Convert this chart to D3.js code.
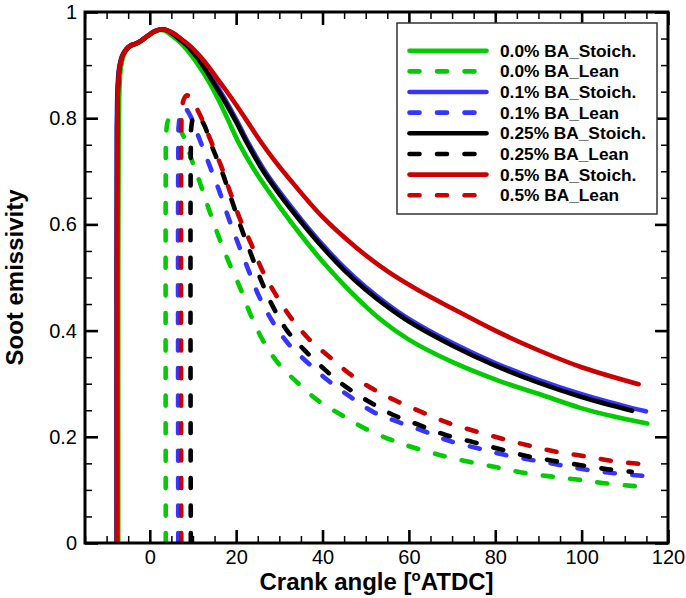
<!DOCTYPE html>
<html><head><meta charset="utf-8">
<script src="https://cdn.jsdelivr.net/npm/d3@7"></script>
<style>
html,body{margin:0;padding:0;background:#fff;}
svg{display:block;font-family:"Liberation Sans",Arial,Helvetica,sans-serif;}
</style></head>
<body><svg id="chart" width="686" height="598"></svg>
<script>
// ---------- data ----------
const xTicks = [0, 20, 40, 60, 80, 100, 120];
const yTicks = [0, 0.2, 0.4, 0.6, 0.8, 1];
const yTickLabels = ["0", "0.2", "0.4", "0.6", "0.8", "1"];
const xLabel = "Crank angle [";
const yLabel = "Soot emissivity";
const seriesLabels = ["0.0% BA_Stoich.", "0.0% BA_Lean", "0.1% BA_Stoich.", "0.1% BA_Lean",
                      "0.25% BA_Stoich.", "0.25% BA_Lean", "0.5% BA_Stoich.", "0.5% BA_Lean"];

const stoich00 = [[-7.3,0],[-7.3,0.45],[-7.2,0.78],[-7.0,0.86],[-6.7,0.895],[-6.1,0.917],[-5.3,0.929],[-4.4,0.936],[-3.4,0.939],[-2.4,0.943],[-1.2,0.950],[0,0.957],[1.2,0.963],[2.4,0.966],[3.4,0.965],[4.4,0.960],
  [5.5,0.953],[7,0.943],[8.6,0.929],[10.2,0.912],[11.8,0.893],[13.8,0.867],[15.7,0.838],[18,0.799],[20.7,0.752],[24.4,0.700],[30,0.634],[35,0.580],[40,0.530],[46.4,0.474],[53.3,0.422],[60,0.383],[70,0.341],[81,0.305],[90,0.281],[99.5,0.255],[107,0.239],[115.2,0.225]];
const lean00 = [[3.7,0],[3.7,0.70],[3.8,0.772],[4.2,0.795],[4.8,0.801],[5.8,0.792],[7.7,0.768],[9.9,0.717],[11.9,0.672],[13.7,0.628],[16,0.576],[18.4,0.527],[20.9,0.481],[23.3,0.431],[26.1,0.383],[29.8,0.338],[34.2,0.302],[39,0.268],[44.4,0.241],[50,0.215],[56,0.194],[61.8,0.178],[70,0.160],[80.6,0.142],[86.8,0.132],[93.2,0.125],[99.5,0.119],[105.9,0.112],[113.8,0.106]];
const stoich01 = [[-7.7,0],[-7.7,0.45],[-7.65,0.78],[-7.45,0.86],[-7.1,0.895],[-6.4,0.918],[-5.5,0.930],[-4.5,0.937],[-3.4,0.940],[-2.4,0.944],[-1.2,0.951],[0,0.958],[1.2,0.964],[2.4,0.967],[3.4,0.967],[4.4,0.964],
  [5.5,0.959],[7,0.950],[8.6,0.939],[10.2,0.925],[11.8,0.909],[14.5,0.875],[17.4,0.836],[20,0.798],[22.6,0.757],[26.3,0.705],[30,0.662],[35,0.610],[40,0.562],[45,0.519],[50,0.482],[55,0.450],[60,0.422],[70,0.377],[80,0.339],[90,0.307],[100,0.280],[111.7,0.254],[114.9,0.248]];
const lean01 = [[6.6,0],[6.6,0.72],[6.75,0.79],[7.3,0.813],[8.1,0.819],[9.3,0.806],[11.4,0.763],[13.7,0.714],[16,0.665],[18.2,0.613],[20.5,0.563],[22.8,0.515],[25.1,0.468],[28.2,0.420],[31.9,0.377],[36.5,0.340],[41.3,0.306],[46.3,0.276],[51.7,0.247],[57.5,0.228],[63.7,0.210],[69.5,0.192],[77.2,0.176],[82.2,0.166],[88.7,0.156],[94.9,0.147],[101.1,0.138],[108,0.131],[114.9,0.126]];
const stoich025 = [[-7.6,0],[-7.6,0.45],[-7.55,0.78],[-7.35,0.86],[-7.0,0.895],[-6.3,0.918],[-5.4,0.930],[-4.4,0.937],[-3.4,0.940],[-2.4,0.944],[-1.2,0.951],[0,0.958],[1.2,0.964],[2.4,0.967],[3.4,0.967],[4.4,0.964],
  [5.5,0.958],[7,0.948],[8.6,0.937],[10.2,0.922],[11.8,0.905],[14.5,0.870],[17.4,0.831],[20,0.793],[22.6,0.752],[26.3,0.700],[30,0.657],[35,0.605],[40,0.557],[45,0.514],[50,0.477],[55,0.445],[60,0.417],[70,0.372],[80,0.334],[90,0.302],[100,0.275],[111.7,0.249]];
const lean025 = [[9.5,0],[9.5,0.74],[9.65,0.785],[10.2,0.803],[11.1,0.806],[12.6,0.787],[14.4,0.747],[16.7,0.700],[19,0.645],[21.1,0.595],[23.4,0.545],[25.7,0.496],[28.4,0.447],[31.7,0.401],[35.6,0.365],[40.6,0.326],[45.6,0.293],[51,0.265],[56.4,0.241],[62.5,0.222],[68.7,0.203],[74.9,0.190],[81,0.177],[87.2,0.164],[93.3,0.155],[99.5,0.147],[106,0.139],[111.6,0.134]];
const stoich05 = [[-7.6,0],[-7.6,0.45],[-7.55,0.78],[-7.35,0.86],[-7.0,0.895],[-6.3,0.918],[-5.4,0.930],[-4.4,0.937],[-3.4,0.940],[-2.4,0.944],[-1.2,0.951],[0,0.958],[1.2,0.964],[2.4,0.967],[3.4,0.967],[4.4,0.964],
  [5.5,0.960],[7,0.951],[8.6,0.941],[10.2,0.929],[11.7,0.916],[13.6,0.897],[15.5,0.876],[17.5,0.854],[19.5,0.831],[22.5,0.795],[25.5,0.758],[29,0.719],[32.5,0.684],[40,0.614],[48,0.555],[55,0.512],[62,0.477],[70,0.442],[80,0.400],[90,0.363],[100,0.331],[113.2,0.299]];
const lean05 = [[7.3,0],[7.3,0.76],[7.45,0.815],[7.9,0.836],[8.6,0.843],[9.5,0.838],[10.9,0.818],[12.1,0.798],[14.4,0.752],[16.7,0.706],[18.6,0.661],[20.9,0.610],[23.6,0.561],[25.9,0.516],[29,0.470],[32.7,0.424],[37.1,0.382],[41.7,0.350],[46.7,0.316],[52.1,0.288],[57.5,0.266],[63.7,0.244],[69.5,0.225],[75.6,0.210],[81.8,0.196],[88,0.183],[94.1,0.172],[100.3,0.164],[106.8,0.155],[113.4,0.149]];

const seriesData = [stoich00, lean00, stoich01, lean01, stoich025, lean025, stoich05, lean05];

// ---------- styles ----------
const seriesColors = ["#00cc00","#00cc00","#3535ff","#3535ff","#000000","#000000","#cc0000","#cc0000"];
const seriesDashed = [false,true,false,true,false,true,false,true];

// ---------- layout ----------
const svg = d3.select("#chart");
const L = 85, R = 668, T = 12, B = 543;
const x = d3.scaleLinear().domain([-15, 120]).range([L, R]);
const y = d3.scaleLinear().domain([0, 1]).range([B, T]);

const xMinor = d3.range(-15, 120.01, 5).filter(v => !xTicks.includes(v));
const yMinor = d3.range(0, 21).map(i => i * 0.05).filter(v => !yTicks.some(t => Math.abs(t - v) < 1e-6));

svg.append("clipPath").attr("id","clip").append("rect")
  .attr("x", L).attr("y", T).attr("width", R - L).attr("height", B - T);

const gLines = svg.append("g").attr("clip-path","url(#clip)");
const line = d3.line().x(d => x(d[0])).y(d => y(d[1])).curve(d3.curveCatmullRom.alpha(0.5));

seriesData.forEach((d, i) => {
  gLines.append("path").datum(d)
    .attr("d", line)
    .attr("fill","none")
    .attr("stroke", seriesColors[i])
    .attr("stroke-width", 4.6)
    .attr("stroke-linecap","round")
    .attr("stroke-linejoin","round")
    .attr("stroke-dasharray", seriesDashed[i] ? "10 17.5" : null);
});

// axes
function styleAxis(g, w) {
  g.select(".domain").remove();
  g.selectAll(".tick line").attr("stroke","#000").attr("stroke-width", w);
  g.selectAll(".tick text").attr("fill","#000").attr("font-size", 20)
    .attr("font-family","'Liberation Sans',Arial,sans-serif");
}
const fmtY = v => yTickLabels[yTicks.findIndex(t => Math.abs(t - v) < 1e-9)];

svg.append("g").attr("transform",`translate(0,${B})`)
  .call(d3.axisBottom(x).tickValues(xTicks).tickSize(-13).tickPadding(7).tickFormat(d3.format("d")))
  .call(g => styleAxis(g, 2.6));
svg.append("g").attr("transform",`translate(0,${B})`)
  .call(d3.axisBottom(x).tickValues(xMinor).tickSize(-7).tickFormat(""))
  .call(g => styleAxis(g, 1.5));
svg.append("g").attr("transform",`translate(0,${T})`)
  .call(d3.axisTop(x).tickValues(xTicks).tickSize(-13).tickFormat(""))
  .call(g => styleAxis(g, 2.6));
svg.append("g").attr("transform",`translate(0,${T})`)
  .call(d3.axisTop(x).tickValues(xMinor).tickSize(-7).tickFormat(""))
  .call(g => styleAxis(g, 1.5));

svg.append("g").attr("transform",`translate(${L},0)`)
  .call(d3.axisLeft(y).tickValues(yTicks).tickSize(-13).tickPadding(8).tickFormat(fmtY))
  .call(g => styleAxis(g, 2.6));
svg.append("g").attr("transform",`translate(${L},0)`)
  .call(d3.axisLeft(y).tickValues(yMinor).tickSize(-7).tickFormat(""))
  .call(g => styleAxis(g, 1.5));
svg.append("g").attr("transform",`translate(${R},0)`)
  .call(d3.axisRight(y).tickValues(yTicks).tickSize(-13).tickFormat(""))
  .call(g => styleAxis(g, 2.6));
svg.append("g").attr("transform",`translate(${R},0)`)
  .call(d3.axisRight(y).tickValues(yMinor).tickSize(-7).tickFormat(""))
  .call(g => styleAxis(g, 1.5));

// frame
svg.append("rect").attr("x", L).attr("y", T).attr("width", R - L).attr("height", B - T)
  .attr("fill","none").attr("stroke","#000").attr("stroke-width", 3);

// axis titles
const xt = svg.append("text").attr("x", (L + R) / 2).attr("y", 590)
  .attr("text-anchor","middle").attr("font-size", 24).attr("font-weight","bold");
xt.append("tspan").text(xLabel);
xt.append("tspan").attr("dy", -9).attr("font-size", 15).text("o");
xt.append("tspan").attr("dy", 9).text("ATDC]");

svg.append("text").attr("transform", `translate(23,${(T + B) / 2}) rotate(-90)`)
  .attr("text-anchor","middle").attr("font-size", 24).attr("font-weight","bold").text(yLabel);

// legend
const lg = svg.append("g");
lg.append("rect").attr("x", 397).attr("y", 23).attr("width", 260).attr("height", 191)
  .attr("fill","#fff").attr("stroke","#333").attr("stroke-width", 1.5);
seriesLabels.forEach((lab, i) => {
  const yy = 50.7 + i * 20.65;
  lg.append("line").attr("x1", 409.5).attr("x2", 486.5).attr("y1", yy).attr("y2", yy)
    .attr("stroke", seriesColors[i]).attr("stroke-width", 4.6).attr("stroke-linecap","round")
    .attr("stroke-dasharray", seriesDashed[i] ? "10 17.5" : null);
  lg.append("text").attr("x", 500).attr("y", yy + 6).attr("font-size", 17.3)
    .attr("font-weight","bold").text(lab);
});
</script></body></html>
